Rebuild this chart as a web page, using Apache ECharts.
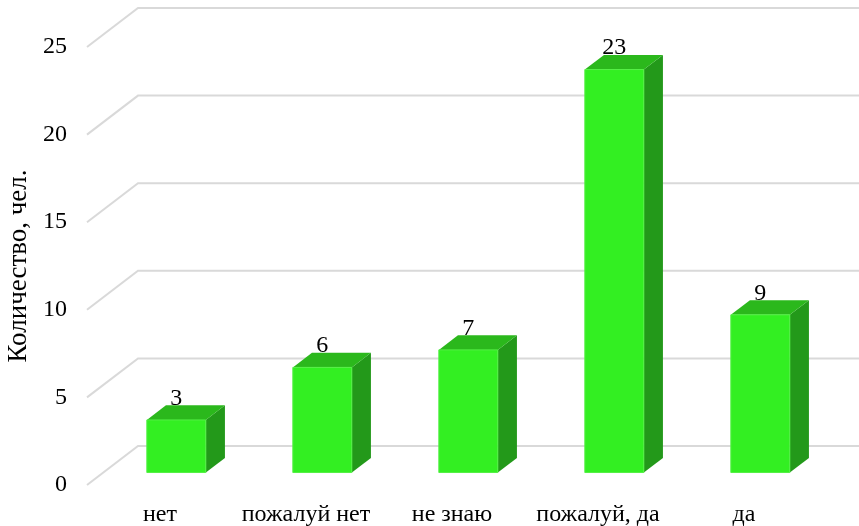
<!DOCTYPE html>
<html>
<head>
<meta charset="utf-8">
<script src="https://cdn.jsdelivr.net/npm/echarts@6/dist/echarts.min.js"></script>
<style>
html,body{margin:0;padding:0;background:#fff;}
#chart{width:859px;height:526px;}
</style>
</head>
<body>
<div id="chart"></div>
<script>
const categories = ['нет', 'пожалуй нет', 'не знаю', 'пожалуй, да', 'да'];
const values = [3, 6, 7, 23, 9];
const yTicks = [0, 5, 10, 15, 20, 25];
const axisTitle = 'Количество, чел.';

const FONT = '"Liberation Serif", "Times New Roman", serif';
const DEPTH_X = 51, DEPTH_Y = -39;     // full floor depth
const FRONT_F = 0.32;                  // bar front plane position within depth
const BAR_D = 0.375;                   // bar depth fraction
const BAR_W = 0.404;                   // bar width / band width
const C_FRONT = '#33EF22', C_TOP = '#2BB81C', C_SIDE = '#23991A';

const chart = echarts.init(document.getElementById('chart'));
chart.setOption({
  animation: false,
  backgroundColor: '#fff',
  grid: { left: 87, right: 42, top: 47, bottom: 41, containLabel: false, outerBoundsMode: 'none' },
  xAxis: {
    type: 'category',
    data: categories,
    axisLine: { show: false },
    axisTick: { show: false },
    axisLabel: { color: '#000', fontFamily: FONT, fontSize: 24, margin: 18, interval: 0 }
  },
  yAxis: {
    type: 'value',
    min: 0, max: 25, interval: 5,
    name: axisTitle,
    nameLocation: 'middle',
    nameRotate: 90,
    nameGap: 52,
    nameTextStyle: { color: '#000', fontFamily: FONT, fontSize: 27 },
    axisLine: { show: false },
    axisTick: { show: false },
    splitLine: { show: false },
    axisLabel: { color: '#000', fontFamily: FONT, fontSize: 24, margin: 20 }
  },
  series: [
    {
      type: 'custom',
      silent: true,
      z: 1,
      data: yTicks.map(v => [0, v]),
      renderItem: function (params, api) {
        const p = api.coord([0, api.value(1)]);
        const x0 = params.coordSys.x;
        const y0 = p[1];
        return {
          type: 'polyline',
          shape: { points: [[x0, y0], [x0 + DEPTH_X, y0 + DEPTH_Y], [api.getWidth(), y0 + DEPTH_Y]] },
          style: { stroke: '#D9D9D9', lineWidth: 2, fill: null }
        };
      }
    },
    {
      type: 'custom',
      z: 2,
      data: values.map((v, i) => [i, v]),
      renderItem: function (params, api) {
        const i = api.value(0), v = api.value(1);
        const c0 = api.coord([i, 0]);
        const c1 = api.coord([i, v]);
        const band = api.size([1, 0])[0];
        const w = band * BAR_W;
        const fx = DEPTH_X * FRONT_F, fy = DEPTH_Y * FRONT_F;
        const dx = DEPTH_X * BAR_D, dy = DEPTH_Y * BAR_D;
        const xL = c0[0] + fx - w / 2, xR = xL + w;
        const yB = c0[1] + fy, yT = c1[1] + fy;
        return {
          type: 'group',
          children: [
            { type: 'polygon', shape: { points: [[xR, yT], [xR + dx, yT + dy], [xR + dx, yB + dy], [xR, yB]] },
              style: { fill: C_SIDE } },
            { type: 'polygon', shape: { points: [[xL, yT], [xR, yT], [xR + dx, yT + dy], [xL + dx, yT + dy]] },
              style: { fill: C_TOP } },
            { type: 'rect', shape: { x: xL, y: yT, width: w, height: yB - yT },
              style: { fill: C_FRONT, stroke: '#55F046', lineWidth: 1 } },
            { type: 'text', x: xL + w / 2, y: yT + dy - 7,
              style: { text: String(v), fill: '#000', font: '24px ' + FONT, textAlign: 'center', textVerticalAlign: 'middle' } }
          ]
        };
      }
    }
  ]
});
</script>
</body>
</html>
